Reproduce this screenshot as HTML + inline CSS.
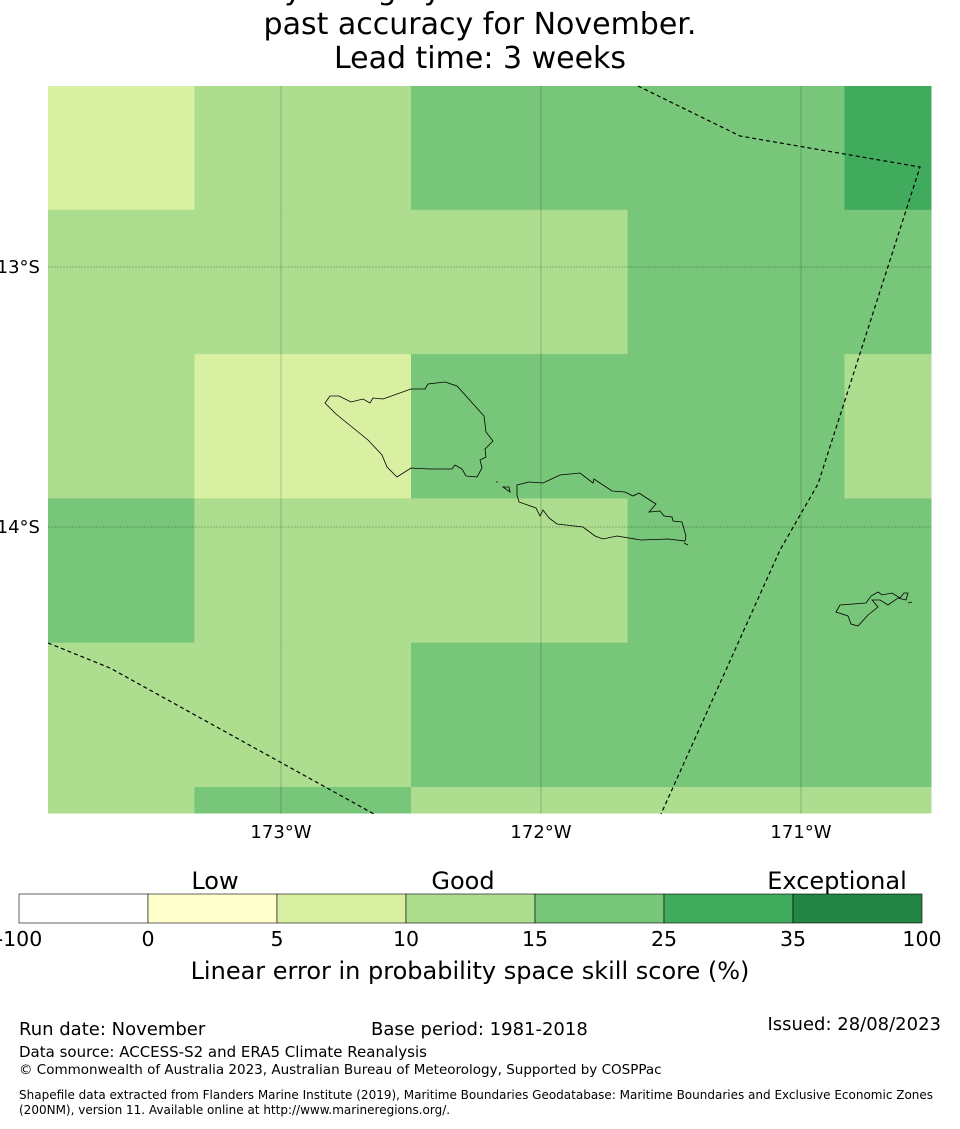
<!DOCTYPE html>
<html><head><meta charset="utf-8">
<style>
html,body{margin:0;padding:0;background:#fff;}
body{width:960px;height:1125px;overflow:hidden;position:relative;font-family:"DejaVu Sans","Liberation Sans",sans-serif;}
svg text{font-family:"DejaVu Sans","Liberation Sans",sans-serif;}
</style></head><body>
<svg id="chart" width="960" height="1125" xmlns="http://www.w3.org/2000/svg">
<g id="title" font-size="30" text-anchor="middle" fill="#000">
<text x="480" y="-1">Probability of highly skilful forecast based on</text>
<text x="480" y="34">past accuracy for November.</text>
<text x="480" y="68">Lead time: 3 weeks</text>
</g>
<g id="cells"></g>
<g id="grid"></g>
<g id="coast" fill="none" stroke="#000" stroke-width="0.8">
<path d="M325,403 L330,396 L339,396 L351,402 L363,399 L370,403 L373,398 L383,399 L411,389 L425,389 L428,384 L445,382 L457,386 L484,416 L486,432 L493,441 L485,449 L486,457 L480,460 L482,468 L477,477 L466,476 L462,469 L455,465 L452,469 L429,469 L411,468 L397,477 L387,467 L382,455 L368,440 L336,414 Z"/>
<path d="M517,485 L529,482 L543,483 L560,475 L580,473 L593,483 L594,479 L612,491 L625,492 L633,496 L639,493 L645,497 L656,504 L649,512 L660,511 L664,516 L672,517 L673,521 L682,522 L686,536 L685,541 L668,539 L641,540 L617,536 L603,539 L595,536 L583,527 L557,524 L549,518 L543,510 L540,516 L536,508 L519,502 L517,495 Z"/>
<path d="M503,487 L509,487 L510,492 Z M496,482 L498,482"/>
<path d="M684,543 L688,545"/>
<path d="M836,612 L840,605 L866,603 L871,596 L878,592 L882,595 L892,593 L900,598 L904,593 L908,593 L906,600 L898,598 L888,605 L880,600 L872,600 L878,607 L868,615 L858,626 L851,624 L848,616 Z M908,603 L912,602"/>
</g>
<g fill="none" stroke="#000" stroke-width="1.2" stroke-dasharray="4,3">
<polyline points="638,86 740,136 920,167 818,484 780,550 661,814"/>
<polyline points="48,643 110,668 280,762 374,814"/>
</g>
<g id="axes" font-size="18" fill="#000"></g>
<g id="cbar"></g>
<g font-size="24" text-anchor="middle">
<text x="215" y="889">Low</text>
<text x="463" y="889">Good</text>
<text x="837" y="889">Exceptional</text>
</g>
<text x="470" y="979" font-size="24" text-anchor="middle">Linear error in probability space skill score (%)</text>
<g fill="#000">
<text x="19" y="1035" font-size="18">Run date: November</text>
<text x="371" y="1035" font-size="18">Base period: 1981-2018</text>
<text x="941" y="1030" font-size="18" text-anchor="end">Issued: 28/08/2023</text>
<text x="19" y="1057" font-size="15">Data source: ACCESS-S2 and ERA5 Climate Reanalysis</text>
<text x="19" y="1074" font-size="13.5">© Commonwealth of Australia 2023, Australian Bureau of Meteorology, Supported by COSPPac</text>
<text x="19" y="1099" font-size="12">Shapefile data extracted from Flanders Marine Institute (2019), Maritime Boundaries Geodatabase: Maritime Boundaries and Exclusive Economic Zones</text>
<text x="19" y="1114" font-size="12">(200NM), version 11. Available online at http://www.marineregions.org/.</text>
</g>
</svg>
<script>
const colEdgesLon = [-173.9, -173.333, -172.5, -171.667, -170.833, -170.5];
const rowEdgesLat = [-12.3, -12.78, -13.335, -13.89, -14.445, -15.0, -15.1];
const skillRow0 = [7, 12, 20, 20, 30];
const skillRow1 = [12, 12, 12, 20, 20];
const skillRow2 = [12, 7, 20, 20, 12];
const skillRow3 = [20, 12, 12, 20, 20];
const skillRow4 = [12, 12, 20, 20, 20];
const skillRow5 = [12, 20, 12, 12, 12];
const skillRows = [skillRow0, skillRow1, skillRow2, skillRow3, skillRow4, skillRow5];
const binEdges = [-100, 0, 5, 10, 15, 25, 35, 100];
const binColors = ["#ffffff", "#ffffcc", "#d9f0a3", "#addd8e", "#78c679", "#41ab5d", "#238443"];
const binTickLabels = ["-100", "0", "5", "10", "15", "25", "35", "100"];
const lonTicks = [-173, -172, -171];
const lonTickLabels = ["173°W", "172°W", "171°W"];
const latTicks = [-13, -14];
const latTickLabels = ["13°S", "14°S"];

const NS = "http://www.w3.org/2000/svg";
const PX = 48, PY = 86, PW = 883, PH = 728;
const xOf = lon => 541 + (lon + 172) * 260;
const yOf = lat => 267 - (lat + 13) * 260;
const clampX = v => Math.max(PX, Math.min(PX + PW, v));
const clampY = v => Math.max(PY, Math.min(PY + PH, v));
function colorFor(v) {
  for (let i = 0; i < binColors.length; i++) if (v < binEdges[i + 1]) return binColors[i];
  return binColors[binColors.length - 1];
}
function mk(tag, attrs, parent) {
  const e = document.createElementNS(NS, tag);
  for (const k in attrs) e.setAttribute(k, attrs[k]);
  parent.appendChild(e);
  return e;
}
const cells = document.getElementById("cells");
skillRows.forEach((row, r) => {
  row.forEach((v, c) => {
    const x0 = clampX(xOf(colEdgesLon[c])), x1 = clampX(xOf(colEdgesLon[c + 1]));
    const y0 = clampY(yOf(rowEdgesLat[r])), y1 = clampY(yOf(rowEdgesLat[r + 1]));
    const rect = mk("rect", {x: x0, y: y0, width: x1 - x0 + 0.5, height: y1 - y0 + 0.5, fill: colorFor(v)}, cells);
    
    
  });
});
const grid = document.getElementById("grid");
const axes = document.getElementById("axes");
lonTicks.forEach((lon, i) => {
  const x = xOf(lon);
  const l = mk("line", {x1: x, x2: x, y1: PY, y2: PY + PH, stroke: "#000", "stroke-opacity": 0.25, "stroke-width": 0.8}, grid);
  
  
  const t = mk("text", {x: x, y: 838, "text-anchor": "middle"}, axes);
  t.textContent = lonTickLabels[i];
  
  
});
latTicks.forEach((lat, i) => {
  const y = yOf(lat);
  const l = mk("line", {x1: PX, x2: PX + PW, y1: y, y2: y, stroke: "#000", "stroke-opacity": 0.3, "stroke-width": 0.8, "stroke-dasharray": "2,1"}, grid);
  
  
  const t = mk("text", {x: 40, y: y + 6, "text-anchor": "end"}, axes);
  t.textContent = latTickLabels[i];
  
  
});
const cbar = document.getElementById("cbar");
const CX = 19, CW = 903, CY = 894, CH = 29, segW = CW / binColors.length;
binColors.forEach((col, i) => {
  const r = mk("rect", {x: CX + i * segW, y: CY, width: segW, height: CH, fill: col, stroke: "#000", "stroke-width": 0.6}, cbar);
  
  
});
binTickLabels.forEach((lab, i) => {
  const t = mk("text", {x: CX + i * segW, y: 946, "text-anchor": "middle", "font-size": 20.5}, cbar);
  t.textContent = lab;
  
  
});
</script>
</body></html>
